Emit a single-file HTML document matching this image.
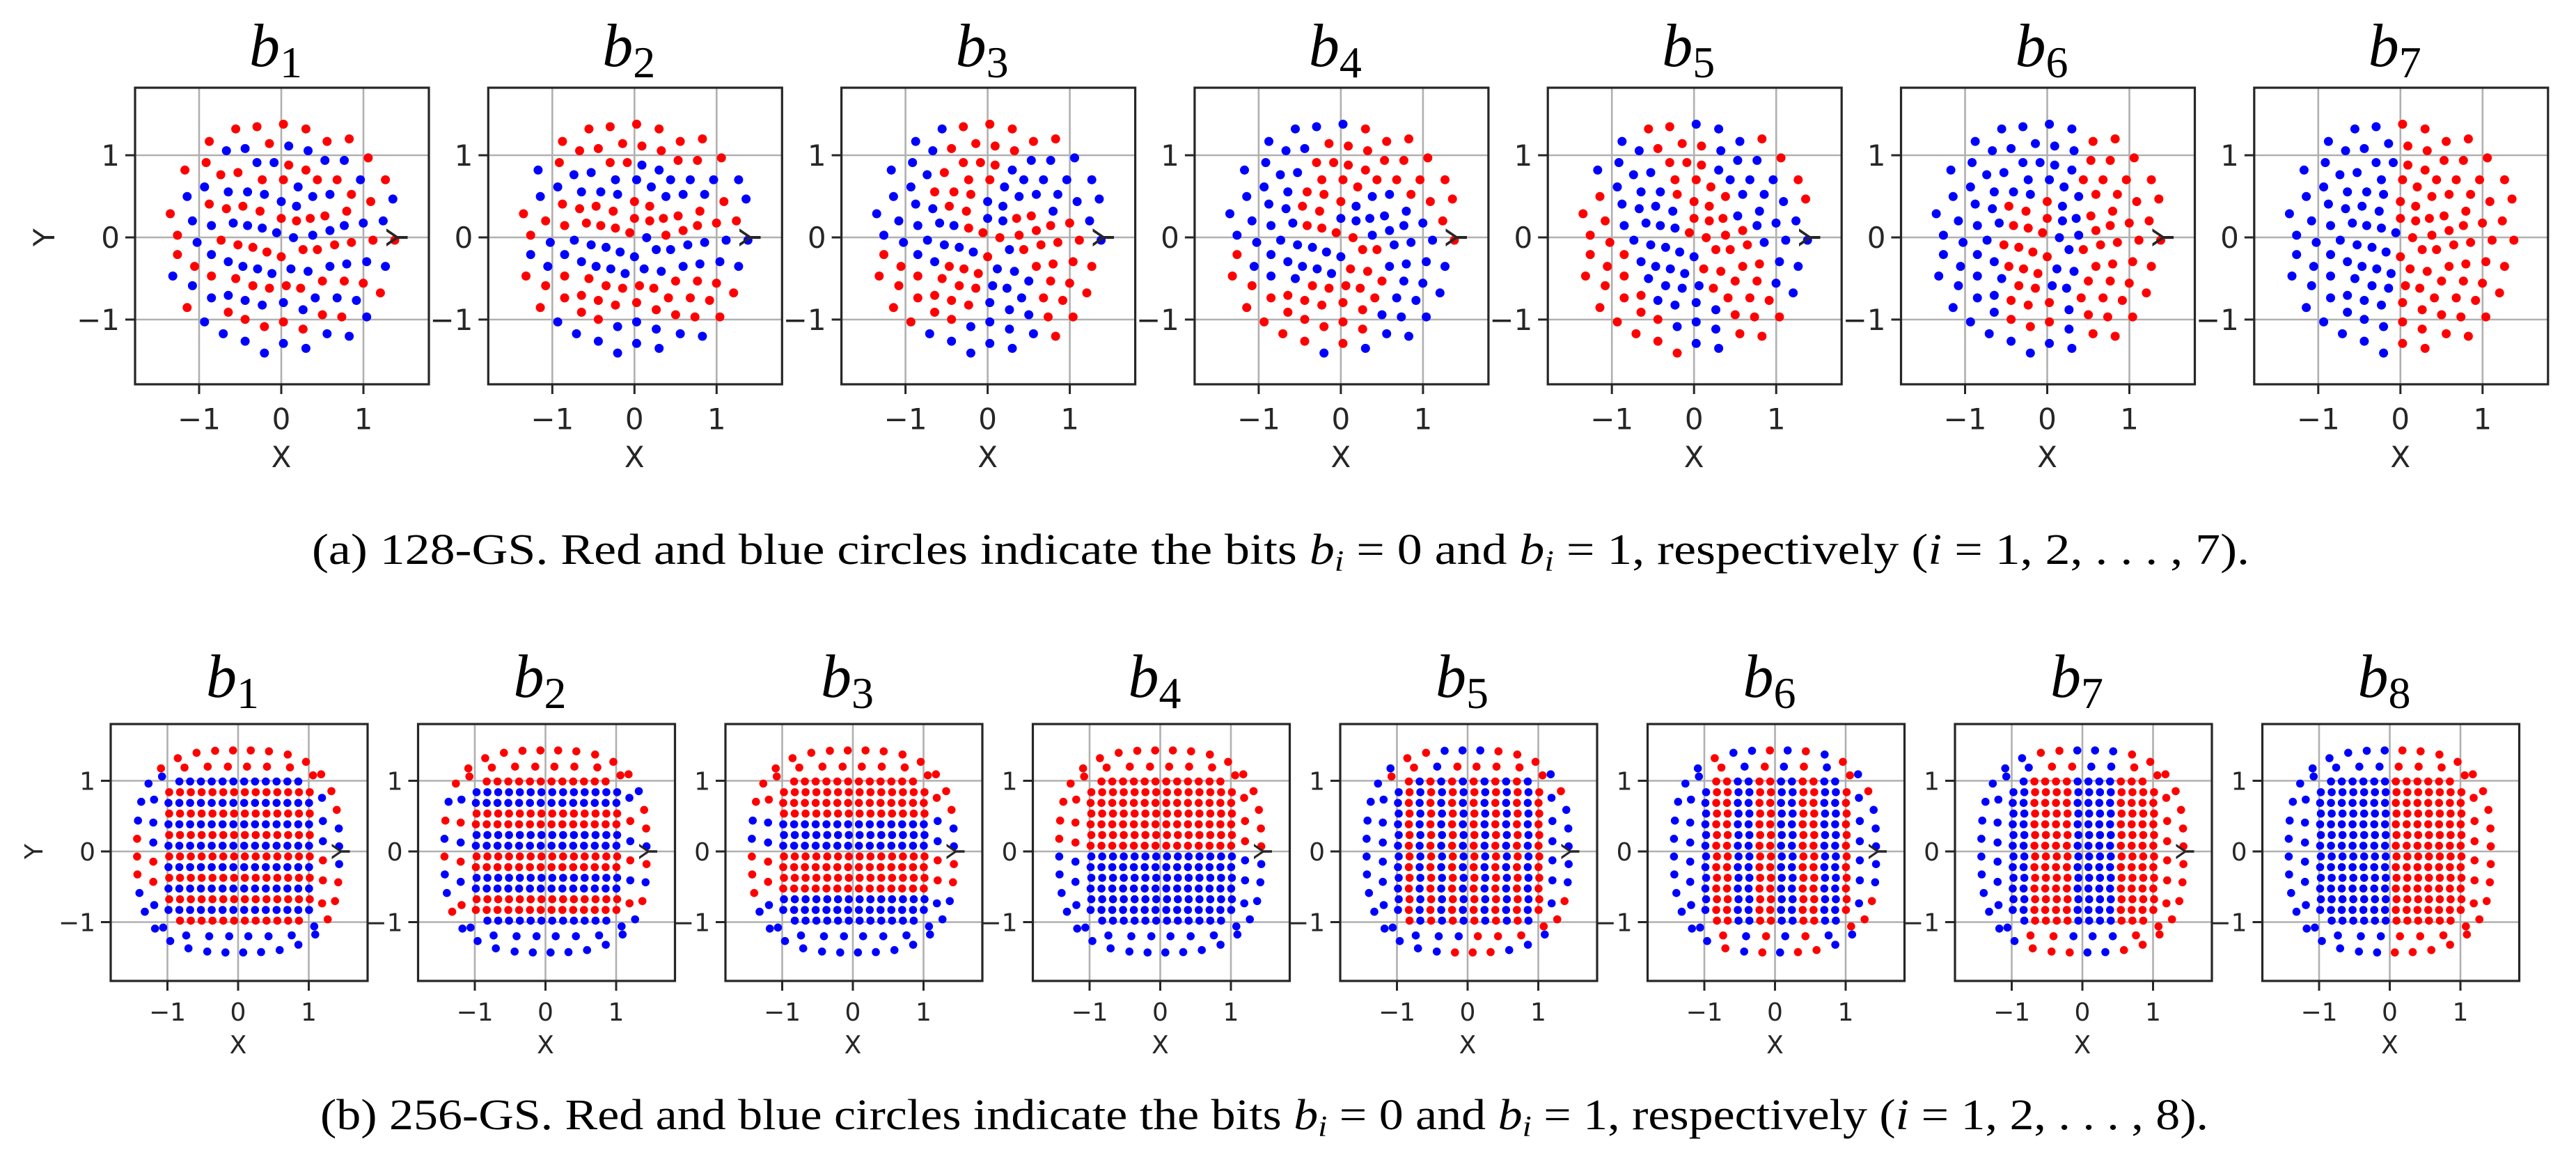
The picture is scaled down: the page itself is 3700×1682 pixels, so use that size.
<!DOCTYPE html>
<html><head><meta charset="utf-8">
<style>
html,body{margin:0;padding:0;background:#fff;width:3700px;height:1682px;overflow:hidden}
svg{display:block}
</style></head>
<body>
<svg id="s" width="3700" height="1682" xmlns="http://www.w3.org/2000/svg">
<text x="448" y="810" font-family="Liberation Serif, serif" font-size="62" textLength="2783" lengthAdjust="spacingAndGlyphs">(a)  128-GS. Red and blue circles indicate the bits <tspan font-style="italic">b</tspan><tspan font-style="italic" font-size="42" dy="10">i</tspan><tspan dy="-10"> = 0 and </tspan><tspan font-style="italic">b</tspan><tspan font-style="italic" font-size="42" dy="10">i</tspan><tspan dy="-10"> = 1, respectively (</tspan><tspan font-style="italic">i</tspan> = 1, 2, . . . , 7).</text>
<text x="460" y="1622" font-family="Liberation Serif, serif" font-size="62" textLength="2712" lengthAdjust="spacingAndGlyphs">(b)  256-GS. Red and blue circles indicate the bits <tspan font-style="italic">b</tspan><tspan font-style="italic" font-size="42" dy="10">i</tspan><tspan dy="-10"> = 0 and </tspan><tspan font-style="italic">b</tspan><tspan font-style="italic" font-size="42" dy="10">i</tspan><tspan dy="-10"> = 1, respectively (</tspan><tspan font-style="italic">i</tspan> = 1, 2, . . . , 8).</text>
</svg>
<script>
(function(){
var svg=document.getElementById('s');
var R='#ff0000',B='#0000ff';
var raw=[[760,415,1],[828,408,1],[913,400,1],[985,415,1],[675,455,1],[868,462,1],[1053,455,1],[1124,447,1],
[730,485,0],[790,478,0],[930,470,0],[992,485,0],[665,523,1],[828,523,0],[883,523,0],[930,531,1],[985,547,1],[1046,516,0],[1108,516,0],[1185,508,1],
[597,547,1],[712,562,1],[767,555,1],[845,578,1],[913,578,1],[1022,578,1],[1085,578,1],[1160,578,0],[1240,578,1],
[660,601,0],[960,601,0],[604,632,0],[736,617,0],[798,617,0],[852,625,0],[906,648,0],[955,663,0],[1007,632,0],[1062,625,0],[1131,625,1],[1193,648,1],[1264,640,0],
[675,656,1],[730,671,1],[783,663,1],[838,679,1],[906,702,1],[955,710,1],[999,702,1],[1046,694,1],[1116,679,1],
[550,687,1],[621,710,0],[682,725,0],[752,717,0],[798,725,0],[845,733,0],[891,748,0],[945,764,0],[1007,756,0],[1062,741,0],[1108,725,0],[1169,717,0],[1233,710,0],
[573,756,1],[636,779,0],[713,772,1],[767,787,1],[815,795,1],[860,810,1],[906,825,1],[976,802,1],[1022,802,1],[1077,787,1],[1131,779,1],[1200,772,1],[1270,772,1],
[573,818,1],[682,818,0],[736,841,0],[783,856,0],[830,864,0],[876,879,0],[937,864,0],[992,872,0],[1062,856,0],[1116,848,0],[1180,841,0],[1240,856,0],
[628,856,1],[558,887,0],[682,887,1],[760,895,1],[815,918,1],[868,926,1],[922,918,1],[968,926,1],[1038,903,1],[1108,903,1],[1169,910,1],[1224,941,1],
[621,918,0],[682,957,0],[736,949,0],[790,965,0],[845,980,0],[913,972,0],[976,995,0],[1015,957,0],[1085,957,0],[1147,965,0],
[604,988,1],[736,1003,1],[790,1026,1],[913,1034,1],[1038,1011,1],[1100,1018,1],[852,1049,1],[976,1057,1],
[660,1034,0],[1180,1018,0],[720,1072,0],[790,1096,0],[913,1103,0],[985,1119,0],[1053,1072,0],[1124,1080,0],[852,1134,0]];
var P1=raw.map(function(p){return {x:(p[0]-906)/263.5,y:(763-p[1])/263.5,c:p[2]};});
function rule1(b,p){
  var x=p.x,y=p.y,a=Math.atan2(y,x),r=Math.sqrt(x*x+y*y);
  if(b==1) return p.c;
  if(b==2) return (y>0.9||(y>0&&y<0.45)||(y>-1.0&&y<-0.45))?1:0;
  if(b==3) return Math.sin(3*a+r*2.5)>0?1:0;
  if(b==4) return Math.cos(2*a+r*3.2+0.5)>0?1:0;
  if(b==5) return Math.sin(x*4.2+y*2.1+0.4)>0?1:0;
  if(b==6) return (x>0.4||(x>-0.55&&x<0.05&&y<0.5&&y>-1.2))?1:0;
  if(b==7) return (x>-0.02)?1:0;
}
var P2=[];
for(var k=0;k<14;k++)for(var j=0;j<14;j++){
  if((k==0||k==13)&&(j==0||j==13))continue;
  P2.push({x:-0.985+j*0.153+((k%2)?0.01:0),y:0.99-k*0.1515});
}
function ring(n,a0,sz,pw){for(var i=0;i<n;i++){var t=a0+i*2*Math.PI/n,c=Math.cos(t),s=Math.sin(t);
 var m=Math.pow(Math.pow(Math.abs(c),pw)+Math.pow(Math.abs(s),pw),1/pw);P2.push({x:sz*c/m,y:sz*s/m});}}
ring(36,0.05,1.43,3);ring(28,0.12,1.2,6);
function rule2(b,p){
  var k=Math.round((0.99-p.y)/0.1515), j=Math.round((p.x+0.985)/0.153);
  if(b<=4){
    if(p.y>1.08) return 1; if(p.y<-1.08) return 0;
    if(b==1) return (((k%2)+2)%2)==1?1:0;
    if(b==2) return (Math.floor((k+1)/2)%2==0)?1:0;
    if(b==3) return (k<=3||(k>=7&&k<=10))?1:0;
    if(b==4) return k<=6?1:0;
  } else {
    if(p.x>1.08) return (b==8||b==7)?1:((j%2)?1:0);
    if(p.x<-1.08) return 0;
    if(b==5) return (((j%2)+2)%2)==1?1:0;
    if(b==6) return (Math.floor((j+1)/2)%2==1)?1:0;
    if(b==7) return (Math.floor((j+2)/4)%2==1)?1:0;
    if(b==8) return j>=7?1:0;
  }
}
function plot(L,T,W,H,cx,cy,u,pts,rule,b,fs,dr,title,ylabOff){
  var g='';
  var X=function(v){return L+cx+v*u;},Y=function(v){return T+cy-v*u;};
  [-1,0,1].forEach(function(v){
    g+='<line x1="'+X(v)+'" y1="'+T+'" x2="'+X(v)+'" y2="'+(T+H)+'" stroke="#b0b0b0" stroke-width="2.6"/>';
    g+='<line x1="'+L+'" y1="'+Y(v)+'" x2="'+(L+W)+'" y2="'+Y(v)+'" stroke="#b0b0b0" stroke-width="2.6"/>';
    g+='<line x1="'+X(v)+'" y1="'+(T+H)+'" x2="'+X(v)+'" y2="'+(T+H+14)+'" stroke="#262626" stroke-width="3"/>';
    g+='<line x1="'+(L-14)+'" y1="'+Y(v)+'" x2="'+L+'" y2="'+Y(v)+'" stroke="#262626" stroke-width="3"/>';
    var lab=v<0?'\u22121':''+v;
    g+='<text x="'+X(v)+'" y="'+(T+H+14+fs*1.2)+'" font-family="DejaVu Sans, sans-serif" font-size="'+fs+'" fill="#262626" text-anchor="middle">'+lab+'</text>';
    g+='<text x="'+(L-22)+'" y="'+(Y(v)+fs*0.36)+'" font-family="DejaVu Sans, sans-serif" font-size="'+fs+'" fill="#262626" text-anchor="end">'+lab+'</text>';
  });
  pts.forEach(function(p){
    g+='<circle cx="'+X(p.x).toFixed(1)+'" cy="'+Y(p.y).toFixed(1)+'" r="'+dr+'" fill="'+(rule(b,p)?R:B)+'"/>';
  });
  g+='<rect x="'+L+'" y="'+T+'" width="'+W+'" height="'+H+'" fill="none" stroke="#262626" stroke-width="3.2"/>';
  g+='<text x="'+X(0)+'" y="'+(T+H+14+fs*2.5)+'" font-family="DejaVu Sans, sans-serif" font-size="'+fs+'" fill="#262626" text-anchor="middle">X</text>';
  var yx=L-ylabOff, yy=T+cy;
  g+='<text x="'+yx+'" y="'+yy+'" font-family="DejaVu Sans, sans-serif" font-size="'+fs+'" fill="#262626" text-anchor="middle" transform="rotate(-90 '+yx+' '+yy+')">Y</text>';
  g+='<text x="'+(X(0)-8)+'" y="'+title+'" font-family="Liberation Serif, serif" text-anchor="middle"><tspan font-style="italic" font-size="88">b</tspan><tspan font-size="64" dy="16">'+b+'</tspan></text>';
  return g;
}
var s='';
for(var i=0;i<7;i++){
  s+=plot(194+i*507.3,126,422,426,210,215,118,P1,rule1,i+1,42,6.5,95,116);
}
for(var i=0;i<8;i++){
  s+=plot(159+i*441.5,1040,369,369,183,183,101.5,P2,rule2,i+1,36,5.8,1001,98);
}
svg.insertAdjacentHTML('beforeend',s);
})();
</script>
</body></html>
